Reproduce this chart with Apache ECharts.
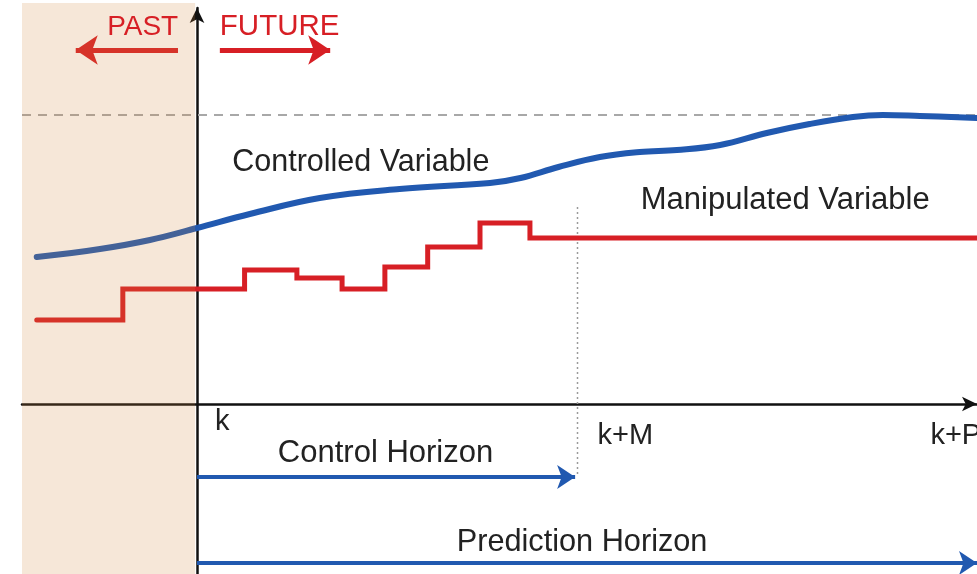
<!DOCTYPE html>
<html>
<head>
<meta charset="utf-8">
<script src="https://cdn.jsdelivr.net/npm/echarts@6/dist/echarts.min.js"></script>
<style>html,body{margin:0;padding:0;background:#fff}#c{width:977px;height:574px}</style>
</head>
<body>
<div id="c"></div>
<script>
// ---- data (time in sampling steps, k = 0; level in arbitrary units) ----
const X_MIN = -3.68, X_MAX = 16.4;
const Y_MIN = -17, Y_MAX = 39.6;
const setpoint = 28.9;
const cvX = [-3.37, -2.04, -0.99, 0, 1.11, 2.58, 4.26, 6.16, 6.8, 7.6, 8.47, 9.31, 10.09, 11.0, 11.98, 12.88, 13.79, 14.42, 15.2, 16.4];
const cvY = [14.7, 15.5, 16.4, 17.6, 19.0, 20.6, 21.5, 22.1, 22.6, 23.7, 24.7, 25.2, 25.4, 25.9, 27.1, 28.0, 28.7, 28.9, 28.8, 28.6];
const mvX = [-3.37, -1.56, 1.0, 2.1, 3.05, 3.95, 4.85, 5.95, 7.0, 16.4];
const mvY = [8.4, 11.5, 13.4, 12.6, 11.5, 13.7, 15.7, 18.1, 16.6, 16.6];
const tickLabels = ['k', 'k+M', 'k+P'];
const tickX = [0, 8, 15];
const tickLabelY = [-1.8, -3.2, -3.2];
const pastEnd = -0.04;
const controlHorizon = 8;
const predictionEnd = 16.4;

const C_RED = '#d71f25', C_BLUE = '#2159b0', C_TEXT = '#222';
const FONT = '"Liberation Sans", Arial, Helvetica, sans-serif';

const chart = echarts.init(document.getElementById('c'), null, {renderer: 'canvas'});

const ann = (x, y, text, color, size) => ({
  value: [x, y],
  label: {show: true, position: 'right', distance: 0, formatter: text, color: color, fontSize: size, fontFamily: FONT}
});

const option = {
  animation: false,
  backgroundColor: '#fff',
  grid: {left: 22, right: 0, top: 8, bottom: 0},
  xAxis: {
    type: 'value', min: X_MIN, max: X_MAX,
    axisLine: {show: true, onZero: true, symbol: ['none', 'arrow'], symbolSize: [11, 15], lineStyle: {color: '#111', width: 2.5}},
    axisTick: {show: false}, axisLabel: {show: false}, splitLine: {show: false}
  },
  yAxis: {
    type: 'value', min: Y_MIN, max: Y_MAX,
    axisLine: {show: true, onZero: true, symbol: ['none', 'arrow'], symbolSize: [11, 15], lineStyle: {color: '#111', width: 2.5}},
    axisTick: {show: false}, axisLabel: {show: false}, splitLine: {show: false}
  },
  series: [
    {
      name: 'Setpoint', type: 'line', symbol: 'none', z: 1,
      data: [[X_MIN, setpoint], [X_MAX, setpoint]],
      lineStyle: {color: '#a8a8a8', width: 2, type: [9, 7]}
    },
    {
      name: 'Horizon marker', type: 'line', symbol: 'none', z: 1,
      data: [[controlHorizon, 19.7], [controlHorizon, -7.3]],
      lineStyle: {color: '#9a9a9a', width: 1.5, type: [2, 3]}
    },
    {
      name: 'Controlled Variable', type: 'line', smooth: 0.4, symbol: 'none', z: 3,
      data: cvX.map((x, i) => [x, cvY[i]]),
      lineStyle: {color: C_BLUE, width: 6, cap: 'round'}
    },
    {
      name: 'Manipulated Variable', type: 'line', step: 'end', symbol: 'none', z: 3,
      data: mvX.map((x, i) => [x, mvY[i]]),
      lineStyle: {color: C_RED, width: 5, cap: 'round', join: 'miter'}
    },
    {
      name: 'Horizon arrows', type: 'line', data: [], symbol: 'none', z: 4,
      markLine: {
        silent: true, symbol: ['none', 'arrow'], symbolSize: 18, label: {show: false},
        lineStyle: {color: C_BLUE, width: 4, type: 'solid'},
        data: [
          [{coord: [0, -7.3]}, {coord: [controlHorizon - 0.05, -7.3]}],
          [{coord: [0, -15.9]}, {coord: [predictionEnd, -15.9]}]
        ]
      }
    },
    {
      name: 'Time arrows', type: 'line', data: [], symbol: 'none', z: 4,
      markLine: {
        silent: true, symbol: ['none', 'arrow'], symbolSize: 22, label: {show: false},
        lineStyle: {color: C_RED, width: 5, type: 'solid'},
        data: [
          [{coord: [-0.4, 35.4]}, {coord: [-2.55, 35.4]}],
          [{coord: [0.48, 35.4]}, {coord: [2.8, 35.4]}]
        ]
      }
    },
    {
      name: 'Past shade', type: 'custom', z: 6, silent: true,
      data: [[X_MIN, pastEnd]],
      renderItem: function (params, api) {
        const p0 = api.coord([X_MIN, Y_MAX]);
        const p1 = api.coord([pastEnd, Y_MIN]);
        return {
          type: 'rect',
          shape: {x: p0[0], y: p0[1] - 5, width: p1[0] - p0[0], height: p1[1] - p0[1] + 5},
          style: {fill: 'rgba(210,135,60,0.2)'}
        };
      }
    },
    {
      name: 'Tick labels', type: 'scatter', symbolSize: 0, z: 7, itemStyle: {opacity: 1},
      data: tickX.map((x, i) => ({
        value: [x, tickLabelY[i]],
        label: {show: true, position: 'right', distance: i === 0 ? 18 : 20, formatter: tickLabels[i], color: C_TEXT, fontSize: 29, fontFamily: FONT}
      }))
    },
    {
      name: 'Annotations', type: 'scatter', symbolSize: 0, z: 7, itemStyle: {opacity: 1},
      data: [
        ann(-1.89, 37.7, 'PAST', C_RED, 28),
        ann(0.48, 37.7, 'FUTURE', C_RED, 29.5),
        ann(0.74, 24.1, 'Controlled Variable', C_TEXT, 30.5),
        ann(9.33, 20.4, 'Manipulated Variable', C_TEXT, 31),
        ann(1.7, -4.95, 'Control Horizon', C_TEXT, 31),
        ann(5.46, -13.85, 'Prediction Horizon', C_TEXT, 30.7)
      ]
    }
  ]
};
chart.setOption(option);
</script>
</body>
</html>
